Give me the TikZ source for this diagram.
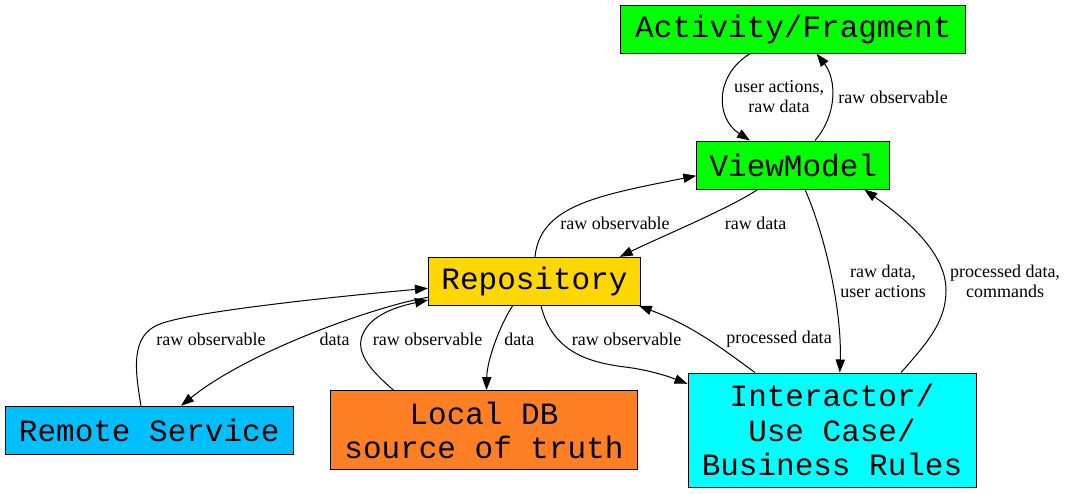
\documentclass[tikz,border=0pt]{standalone}
\usepackage{fontspec}
\setmainfont{Liberation Serif}
\setmonofont{Liberation Mono}
\usetikzlibrary{arrows.meta}
\definecolor{vmgreen}{HTML}{00FF00}
\definecolor{repgold}{HTML}{FFD700}
\definecolor{rsblue}{HTML}{00BFFF}
\definecolor{dborange}{HTML}{FF7F24}
\definecolor{intcyan}{HTML}{00FFFF}
\begin{document}
\begin{tikzpicture}[x=1pt,y=-1pt,
  box/.style={draw=black,line width=1pt,inner sep=0pt,font=\fontsize{31}{34.5}\selectfont\ttfamily,align=center},
  lbl/.style={font=\fontsize{18}{20}\selectfont,align=center,inner sep=0pt},
  edge/.style={line width=1pt,-{Triangle[length=13pt,width=9.3pt]}}]
\useasboundingbox[fill=white] (0,0) rectangle (1068,493);
\node[box,fill=vmgreen,minimum width=345pt,minimum height=48pt] (act) at (793.3,29.2) {Activity/Fragment};
\node[box,fill=vmgreen,minimum width=193pt,minimum height=48pt] (vm) at (793.3,165) {ViewModel};
\node[box,fill=repgold,minimum width=212pt,minimum height=48pt] (rep) at (534.5,281.3) {Repository};
\node[box,fill=rsblue,minimum width=288pt,minimum height=48pt] (rs) at (149.2,430.3) {Remote Service};
\node[box,fill=dborange,minimum width=306.4pt,minimum height=79.3pt] (ldb) at (484,430.3) {Local DB\\source of truth};
\node[box,fill=intcyan,minimum width=288pt,minimum height=114pt] (int) at (832,430) {Interactor/\\Use Case/\\Business Rules};

\node[lbl] (l1) at (779,97) {user actions,\\raw data};
\node[lbl] (l2) at (893,97) {raw observable};
\node[lbl] (l3) at (615,223) {raw observable};
\node[lbl] (l4) at (755.6,223) {raw data};
\node[lbl] (l5) at (883,281) {raw data,\\user actions};
\node[lbl] (l6) at (1005,281) {processed data,\\commands};
\node[lbl] (l7) at (779,339) {processed data};
\node[lbl] (l8) at (626.6,339) {raw observable};
\node[lbl] (l9) at (519.4,339) {data};
\node[lbl] (l10) at (427.6,339) {raw observable};
\node[lbl] (l11) at (334.6,339) {data};
\node[lbl] (l12) at (211,339) {raw observable};

\draw[edge] ([xshift=-43.3pt]act.south) .. controls (715,75) and (715,118) .. ([xshift=-43.3pt]vm.north);
\draw[edge] ([xshift=21.7pt]vm.north) .. controls (837,115) and (837,80) .. ([xshift=23.4pt]act.south);
\draw[edge] ([xshift=0.5pt]rep.north) .. controls (540,205) and (600,195) .. ([yshift=-10.7pt]vm.west);
\draw[edge] ([xshift=-35.6pt]vm.south) .. controls (730,208) and (665,235) .. ([xshift=85.1pt]rep.north);
\draw[edge] ([xshift=11.7pt]vm.south) .. controls (825,235) and (842,310) .. ([xshift=7.8pt]int.north);
\draw[edge] ([xshift=69pt]int.north) .. controls (930,340) and (946,320) .. (946,290) .. controls (946,250) and (900,215) .. ([xshift=71pt]vm.south);
\draw[edge] ([xshift=-77.1pt]int.north) .. controls (715,343) and (690,325) .. ([xshift=104.3pt]rep.south);
\draw[edge] ([xshift=6.5pt]rep.south) .. controls (552,350) and (585,362) .. (625,367) .. controls (650,370) and (670,377) .. ([yshift=-11.3pt]int.north west);
\draw[edge] ([xshift=-21.9pt]rep.south) .. controls (500,325) and (487,360) .. ([xshift=2.5pt]ldb.north);
\draw[edge] ([xshift=-90.5pt]ldb.north) .. controls (370,370) and (352,350) .. (365,330) .. controls (375,313) and (400,306) .. ([yshift=-18.7pt]rep.west);
\draw[edge] ([yshift=-16pt]rep.west) .. controls (380,305) and (250,350) .. ([xshift=31.8pt]rs.north);
\draw[edge] ([xshift=-8.2pt]rs.north) .. controls (135,370) and (130,335) .. (160,324) .. controls (190,312) and (330,297) .. ([yshift=-7pt]rep.west);
\end{tikzpicture}
\end{document}
